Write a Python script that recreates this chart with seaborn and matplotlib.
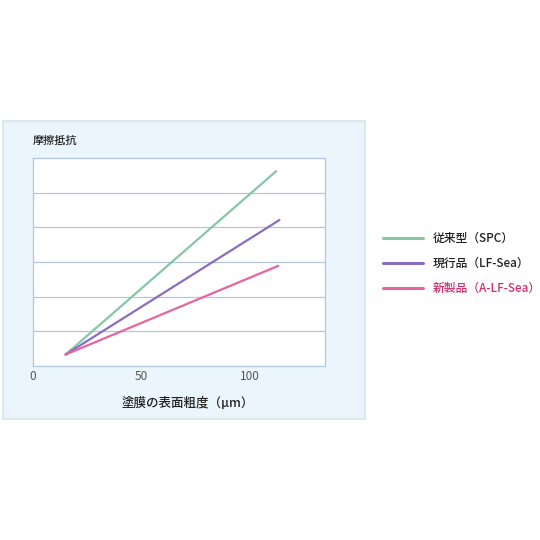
import numpy as np
import pandas as pd
import seaborn as sns
import matplotlib.pyplot as plt
from matplotlib.patches import Rectangle

sns.set_theme(style="white")
plt.rcParams['font.family'] = ['Noto Sans CJK JP', 'DejaVu Sans']

# data (arbitrary friction units)
series = ['従来型(SPC)', '現行品(LF-Sea)', '新製品(A-LF-Sea)']
x_start = [15, 15, 15]
x_end = [112, 113.5, 113]
y_start = [0.33, 0.33, 0.33]
y_end = [5.62, 4.21, 2.89]
colors = ['#86c6a6', '#8a6cc0', '#e8649c']
xticks = [0, 50, 100]

df = pd.DataFrame({
    'series': series * 2,
    'x': x_start + x_end,
    'y': y_start + y_end,
})

fig = plt.figure(figsize=(5.4, 5.4), dpi=100)

# light blue panel behind the chart
fig.patches.append(Rectangle((3 / 540, 1 - 419 / 540), 362 / 540, 298 / 540,
                             transform=fig.transFigure, facecolor='#eaf6fc',
                             edgecolor='#dbe8f0', linewidth=1.5, zorder=-5))

ax = fig.add_axes([33 / 540, 1 - 366 / 540, 292 / 540, 208 / 540])
ax.set_zorder(2)
ax.set_facecolor('white')
sns.lineplot(data=df, x='x', y='y', hue='series', palette=colors,
             linewidth=1.6, ax=ax, legend=False, sort=False)

ax.set_xlim(0, 134.5)
ax.set_ylim(0, 6)
ax.set_xticks(xticks)
ax.set_xticklabels([str(t) for t in xticks], color='#555555', fontsize=8.5)
ax.set_yticks([1, 2, 3, 4, 5])
ax.set_yticklabels([])
ax.tick_params(length=0, pad=3)
ax.grid(axis='y', color='#b4c6dc', linewidth=0.9)
for s in ax.spines.values():
    s.set_color('#b4c6dc')
    s.set_linewidth(0.9)
ax.set_xlabel('塗膜の表面粗度（μm）', fontsize=9, color='#222222',
              fontweight='medium')
ax.xaxis.set_label_coords(0.53, -0.148)
ax.set_ylabel('')
fig.text(33 / 540, 1 - 141 / 540, '摩擦抵抗', fontsize=8, color='#222222',
         va='center', ha='left', fontweight='medium')

# legend
legend_y = [238, 263, 288]
text_colors = ['#222222', '#222222', '#d0306e']
for name, c, tc, ly in zip(series, colors, text_colors, legend_y):
    fy = 1 - ly / 540
    fig.add_artist(plt.Line2D([383 / 540, 423 / 540], [fy, fy], color=c,
                              linewidth=2.2, transform=fig.transFigure))
    fig.text(433 / 540, fy, name.replace('(', '（').replace(')', '）'),
             fontsize=8.5, color=tc, va='center', ha='left', fontweight='medium')

fig.savefig('out.png', dpi=100)
